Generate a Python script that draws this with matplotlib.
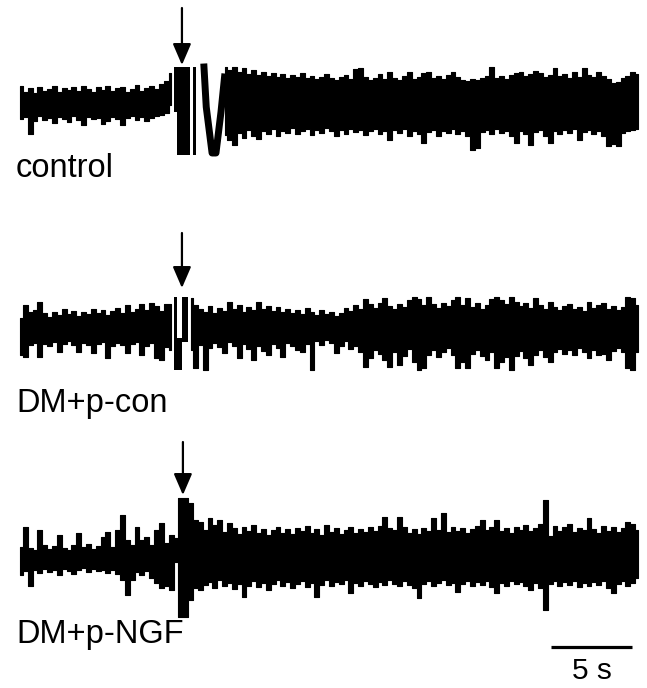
import numpy as np
import matplotlib
matplotlib.use("Agg")
import matplotlib.pyplot as plt

plt.rcParams['font.family'] = ['Liberation Sans', 'DejaVu Sans']

nan = np.nan

# sampling grid of the envelopes (s), 0.3 s columns
t = np.arange(128) * 0.3 + 0.15

# control: upper / lower envelope of the trace (a.u.)
ctrl_hi = ([21, 15, 19, 14, 20, 16, 18, 21, 15, 19, 17, 20, 16, 21, 18, 15, 20, 17, 21, 16,
            19, 20, 15, 18, 22, 16, 19, 21, 18, 23, 26, 34]
           + [nan] * 10
           + [40, 37, 40, 35, 39, 33, 37, 32, 35, 31, 34, 30, 33, 29, 32, 30, 34, 29, 31, 28,
              30, 33, 29, 27, 30, 32, 28, 38, 39, 30, 27, 29, 33, 28, 35, 29, 27, 31, 35, 28,
              30, 34, 35, 29, 31, 28, 32, 35, 30, 27, 26, 28, 27, 29, 31, 40, 29, 31, 28, 32,
              34, 35, 31, 33, 36, 34, 30, 32, 39, 31, 33, 29, 35, 30, 39, 32, 30, 35, 31, 28,
              24, 25, 29, 31, 35, 33])
ctrl_lo = ([-12, -10, -27, -14, -9, -13, -11, -16, -10, -12, -15, -9, -13, -18, -10, -12, -11, -17,
            -14, -10, -12, -18, -11, -9, -13, -10, -14, -11, -9, -8, -6, 2]
           + [nan] * 10
           + [-28, -33, -38, -26, -31, -23, -29, -32, -24, -27, -22, -29, -24, -26, -21, -27, -24, -22,
              -28, -23, -26, -21, -24, -29, -23, -27, -22, -25, -23, -28, -24, -22, -27, -24, -33, -23,
              -26, -22, -29, -24, -27, -36, -25, -23, -29, -24, -26, -22, -27, -24, -29, -43, -41, -25,
              -23, -27, -22, -26, -24, -29, -36, -24, -27, -38, -25, -23, -29, -36, -24, -27, -23, -26,
              -22, -33, -25, -23, -27, -24, -29, -39, -37, -39, -26, -24, -23, -22])
# stimulus artefact of control: bars (start, width, top, bottom) and the V swing
ctrl_bar_t = [9.6, 9.82, 10.8]
ctrl_bar_w = [0.22, 0.8, 0.19]
ctrl_bar_top = [40, 40, 40]
ctrl_bar_bot = [-5, -48, -48]
ctrl_v_t = [11.48, 11.62, 11.98, 12.22, 12.53, 12.75]
ctrl_v_amp = [40, 0, -46, -46, -5, 30]

# DM+p-con
con_hi = ([12, 25, 18, 20, 28, 17, 13, 18, 15, 21, 16, 19, 14, 18, 16, 21, 17, 20, 15, 19,
           22, 17, 25, 18, 21, 26, 20, 27, 24, 19, 26, 26]
          + [nan] * 3
          + [32, 25, 21, 18, 24, 17, 22, 19, 28, 21, 25, 18, 23, 20, 28, 21, 24, 19, 23, 18,
             21, 17, 20, 16, 22, 18, 15, 20, 16, 18, 14, 17, 22, 19, 25, 21, 31, 26, 22, 27,
             32, 24, 21, 26, 23, 30, 33, 31, 25, 33, 26, 22, 27, 24, 30, 33, 25, 32, 23, 27,
             21, 25, 31, 33, 30, 26, 33, 28, 24, 27, 22, 32, 25, 21, 28, 23, 20, 24, 26, 21,
             23, 19, 28, 22, 25, 27, 21, 24, 20, 23, 33, 32, 25])
con_lo = ([-25, -27, -15, -13, -27, -14, -16, -12, -22, -14, -11, -15, -22, -13, -15, -23, -14, -12,
           -28, -16, -13, -15, -23, -14, -12, -25, -16, -13, -28, -30, -17, -20]
          + [nan] * 3
          + [-20, -38, -15, -40, -18, -13, -17, -23, -12, -16, -28, -14, -19, -30, -16, -21, -25, -14,
             -18, -27, -13, -16, -20, -22, -14, -40, -11, -15, -10, -13, -23, -16, -11, -19, -16, -22,
             -37, -28, -20, -24, -30, -37, -22, -35, -26, -19, -32, -40, -38, -25, -20, -27, -22, -18,
             -25, -38, -32, -38, -24, -20, -26, -30, -22, -38, -32, -27, -40, -26, -21, -28, -35, -25,
             -20, -27, -32, -22, -19, -24, -20, -25, -18, -22, -28, -20, -25, -24, -30, -21, -18, -22,
             -38, -40, -22])
con_bar_t = [9.6, 9.82, 10.1]
con_bar_w = [0.22, 0.28, 0.4]
con_bar_top = [33, -8, 33]
con_bar_bot = [-40, -40, -12]

# DM+p-NGF
ngf_hi = ([13, 33, 12, 10, 30, 15, 11, 14, 25, 12, 10, 15, 27, 13, 16, 11, 14, 23, 28, 13,
           30, 45, 20, 15, 33, 20, 23, 15, 30, 37, 17, 25]
          + [22, 62, 62, 57, 40]
          + [38, 30, 42, 35, 40, 28, 37, 32, 26, 33, 29, 35, 27, 31, 25, 30, 33, 27, 31, 26,
             32, 29, 34, 27, 31, 25, 35, 28, 32, 26, 30, 33, 27, 31, 28, 33, 29, 34, 43, 32,
             30, 43, 33, 27, 31, 26, 32, 29, 42, 30, 47, 28, 33, 29, 32, 27, 31, 34, 40, 30,
             33, 40, 29, 32, 27, 33, 30, 35, 29, 32, 36, 60, 24, 34, 29, 33, 36, 28, 32, 30,
             42, 31, 27, 34, 29, 33, 28, 32, 38, 36, 30])
ngf_lo = ([-15, -11, -26, -10, -13, -9, -12, -10, -15, -9, -11, -14, -10, -8, -12, -9, -11, -10,
           -13, -10, -14, -20, -35, -20, -12, -15, -11, -18, -23, -28, -26, -30]
          + [-2, -57, -57, -40, -28]
          + [-30, -25, -22, -28, -20, -26, -23, -29, -24, -37, -26, -21, -27, -23, -30, -24, -20, -26,
             -22, -28, -24, -21, -27, -23, -37, -25, -20, -26, -22, -24, -20, -33, -23, -26, -21, -24,
             -27, -22, -25, -20, -24, -26, -21, -25, -28, -38, -24, -21, -26, -23, -20, -25, -23, -32,
             -24, -21, -26, -22, -25, -21, -27, -33, -23, -26, -21, -24, -22, -26, -30, -23, -28, -50,
             -24, -21, -26, -22, -25, -21, -27, -23, -26, -22, -25, -21, -28, -33, -24, -21, -26, -23,
             -18])

labels = ["control", "DM+p-con", "DM+p-NGF"]
stim_time = [10.12, 10.12, 10.18]
arrow_top = [99, 97, 118]
arrow_tip = [42, 42, 65]

fig = plt.figure(figsize=(6.47, 6.88), dpi=100)
H = 688.0
# (top px, bottom px, baseline px) of each trace band
rows = [(0, 200, 107), (200, 420, 330), (420, 688, 560)]
xlim = (-18 / 16.2, 629 / 16.2)

axes = []
for top, bot, base in rows:
    ax = fig.add_axes([0, 1 - bot / H, 1, (bot - top) / H])
    ax.set_xlim(*xlim)
    ax.set_ylim(base - bot, base - top)
    ax.axis("off")
    axes.append(ax)

envelopes = [(ctrl_hi, ctrl_lo), (con_hi, con_lo), (ngf_hi, ngf_lo)]
for ax, (hi, lo) in zip(axes, envelopes):
    ax.fill_between(t, np.array(lo, float), np.array(hi, float), step="mid",
                    color="black", lw=0.8)

# stimulus artefacts
axes[0].bar(ctrl_bar_t, np.subtract(ctrl_bar_top, ctrl_bar_bot), width=ctrl_bar_w,
            bottom=ctrl_bar_bot, align="edge", color="black")
axes[0].plot(ctrl_v_t, ctrl_v_amp, color="black", lw=5)
axes[1].bar(con_bar_t, np.subtract(con_bar_top, con_bar_bot), width=con_bar_w,
            bottom=con_bar_bot, align="edge", color="black")

label_y = [-70, -82, -83]
for ax, lab, ly, st, at, tip in zip(axes, labels, label_y, stim_time, arrow_top, arrow_tip):
    ax.text(-0.12, ly, lab, fontsize=23.5, va="baseline", ha="left")
    ax.annotate("", xy=(st, tip), xytext=(st, at),
                arrowprops=dict(arrowstyle="-|>,head_length=0.65,head_width=0.28",
                                mutation_scale=20, color="black", lw=1.6,
                                shrinkA=0, shrinkB=0))

# scale bar: 5 s
axes[2].plot([32.9, 37.9], [-87, -87], color="black", lw=2.3, solid_capstyle="butt")
axes[2].text(35.4, -119, "5 s", fontsize=21.5, ha="center", va="baseline")

fig.savefig("out.png", dpi=100)
